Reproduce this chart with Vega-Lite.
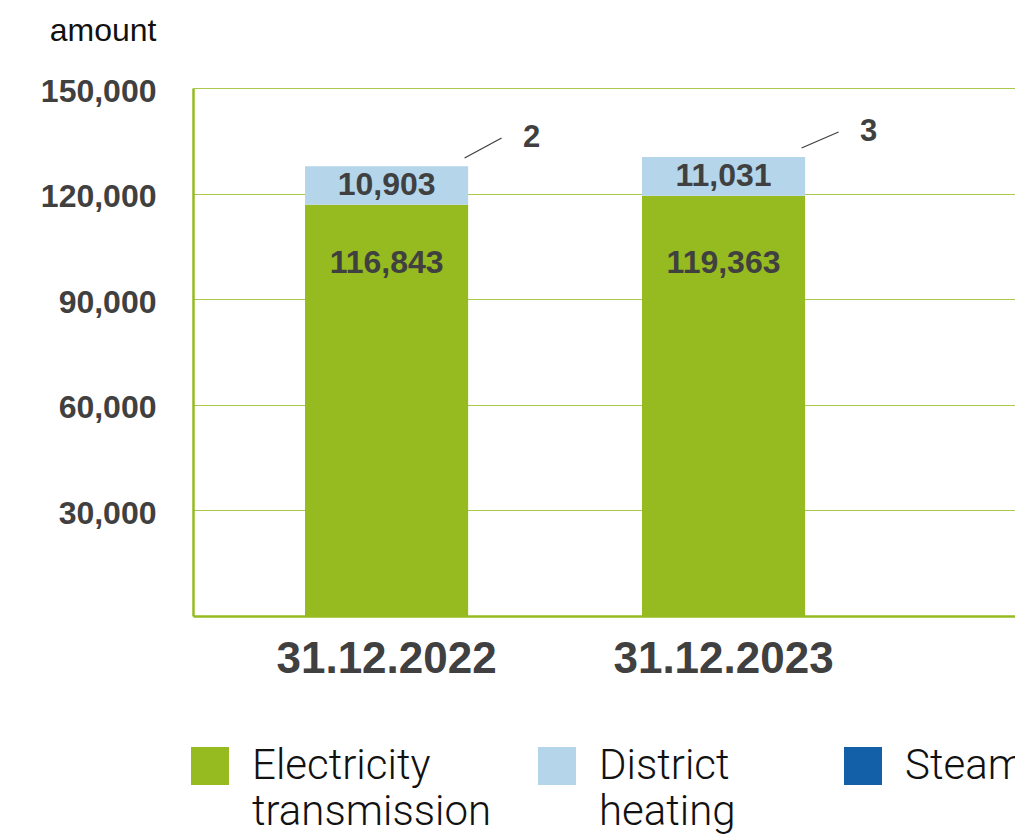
{
  "$schema": "https://vega.github.io/schema/vega-lite/v6.json",
  "width": 822,
  "height": 528,
  "autosize": "none",
  "padding": {"left": 193, "top": 88, "right": 0, "bottom": 220},
  "background": "white",
  "config": {
    "view": {"stroke": null},
    "font": "Liberation Sans",
    "style": {"guide-label": {"lineHeight": 46}}
  },
  "datasets": {
    "amounts": [
      {"date": "31.12.2022", "type": "Electricity transmission", "value": 116843},
      {"date": "31.12.2022", "type": "District heating", "value": 10903},
      {"date": "31.12.2022", "type": "Steam", "value": 2},
      {"date": "31.12.2023", "type": "Electricity transmission", "value": 119363},
      {"date": "31.12.2023", "type": "District heating", "value": 11031},
      {"date": "31.12.2023", "type": "Steam", "value": 3}
    ],
    "callouts": [
      {"date": "31.12.2022", "label": "2", "from": 130100, "to": 135800},
      {"date": "31.12.2023", "label": "3", "from": 132950, "to": 137500}
    ]
  },
  "encoding": {
    "x": {
      "field": "date",
      "type": "nominal",
      "title": null,
      "scale": {"paddingInner": 0.516, "paddingOuter": 0.4777, "align": 0.348},
      "axis": {
        "labelAngle": 0,
        "labelFontSize": 44,
        "labelFontWeight": "bold",
        "labelColor": "#404040",
        "labelPadding": 21,
        "labelLimit": 500,
        "ticks": false,
        "domainColor": "#95BB20",
        "domainWidth": 2.5,
        "grid": false
      }
    }
  },
  "layer": [
    {
      "data": {"name": "amounts"},
      "mark": {"type": "bar"},
      "encoding": {
        "y": {
          "field": "value",
          "type": "quantitative",
          "stack": "zero",
          "scale": {"domain": [0, 150000], "nice": false},
          "axis": {
            "values": [30000, 60000, 90000, 120000, 150000],
            "format": ",d",
            "labelFontSize": 32,
            "labelFontWeight": "bold",
            "labelColor": "#404040",
            "labelPadding": 37,
            "labelOffset": 3,
            "ticks": false,
            "domainColor": "#95BB20",
            "domainWidth": 2.5,
            "grid": true,
            "gridColor": "#A8C94C",
            "gridWidth": 1.2,
            "title": "amount",
            "titleAngle": 0,
            "titleAlign": "right",
            "titleBaseline": "middle",
            "titleX": -37,
            "titleY": -58,
            "titleFontSize": 32,
            "titleFontWeight": "normal",
            "titleColor": "#111111"
          }
        },
        "color": {
          "field": "type",
          "type": "nominal",
          "scale": {
            "domain": ["Electricity transmission", "District heating", "Steam"],
            "range": ["#95BB20", "#B4D5EA", "#1460A8"]
          },
          "legend": {
            "orient": "none",
            "legendX": -4,
            "legendY": 657,
            "direction": "horizontal",
            "title": null,
            "symbolType": "square",
            "symbolSize": 1444,
            "symbolStrokeWidth": 0,
            "symbolOpacity": 1,
            "labelFont": "Roboto",
            "labelFontWeight": 300,
            "labelFontSize": 42,
            "labelColor": "#111111",
            "labelOffset": 21,
            "labelLimit": 400,
            "labelExpr": "datum.label === 'Steam' ? ['Steam', ' '] : datum.label === 'District heating' ? ['District', 'heating\u2800\u2800'] : split(datum.label, ' ')",
            "columnPadding": 44
          }
        }
      }
    },
    {
      "data": {"name": "amounts"},
      "transform": [{"filter": "datum.type === 'Electricity transmission'"}],
      "mark": {"type": "text", "baseline": "middle", "fontSize": 32, "fontWeight": "bold", "color": "#404040"},
      "encoding": {
        "y": {"datum": 100300, "type": "quantitative"},
        "text": {"field": "value", "type": "quantitative", "format": ","}
      }
    },
    {
      "data": {"name": "amounts"},
      "transform": [
        {"joinaggregate": [{"op": "sum", "field": "value", "as": "total"}], "groupby": ["date"]},
        {"filter": "datum.type === 'District heating'"}
      ],
      "mark": {"type": "text", "baseline": "middle", "dy": 18.5, "fontSize": 32, "fontWeight": "bold", "color": "#404040"},
      "encoding": {
        "y": {"field": "total", "type": "quantitative"},
        "text": {"field": "value", "type": "quantitative", "format": ","}
      }
    },
    {
      "data": {"name": "callouts"},
      "mark": {"type": "rule", "xOffset": 78, "x2Offset": 115, "strokeWidth": 1.3, "color": "#404040"},
      "encoding": {
        "x2": {"field": "date"},
        "y": {"field": "from", "type": "quantitative"},
        "y2": {"field": "to"}
      }
    },
    {
      "data": {"name": "callouts"},
      "mark": {"type": "text", "baseline": "middle", "dx": 145, "fontSize": 31, "fontWeight": "bold", "color": "#404040"},
      "encoding": {
        "y": {"field": "to", "type": "quantitative"},
        "text": {"field": "label"}
      }
    }
  ]
}
